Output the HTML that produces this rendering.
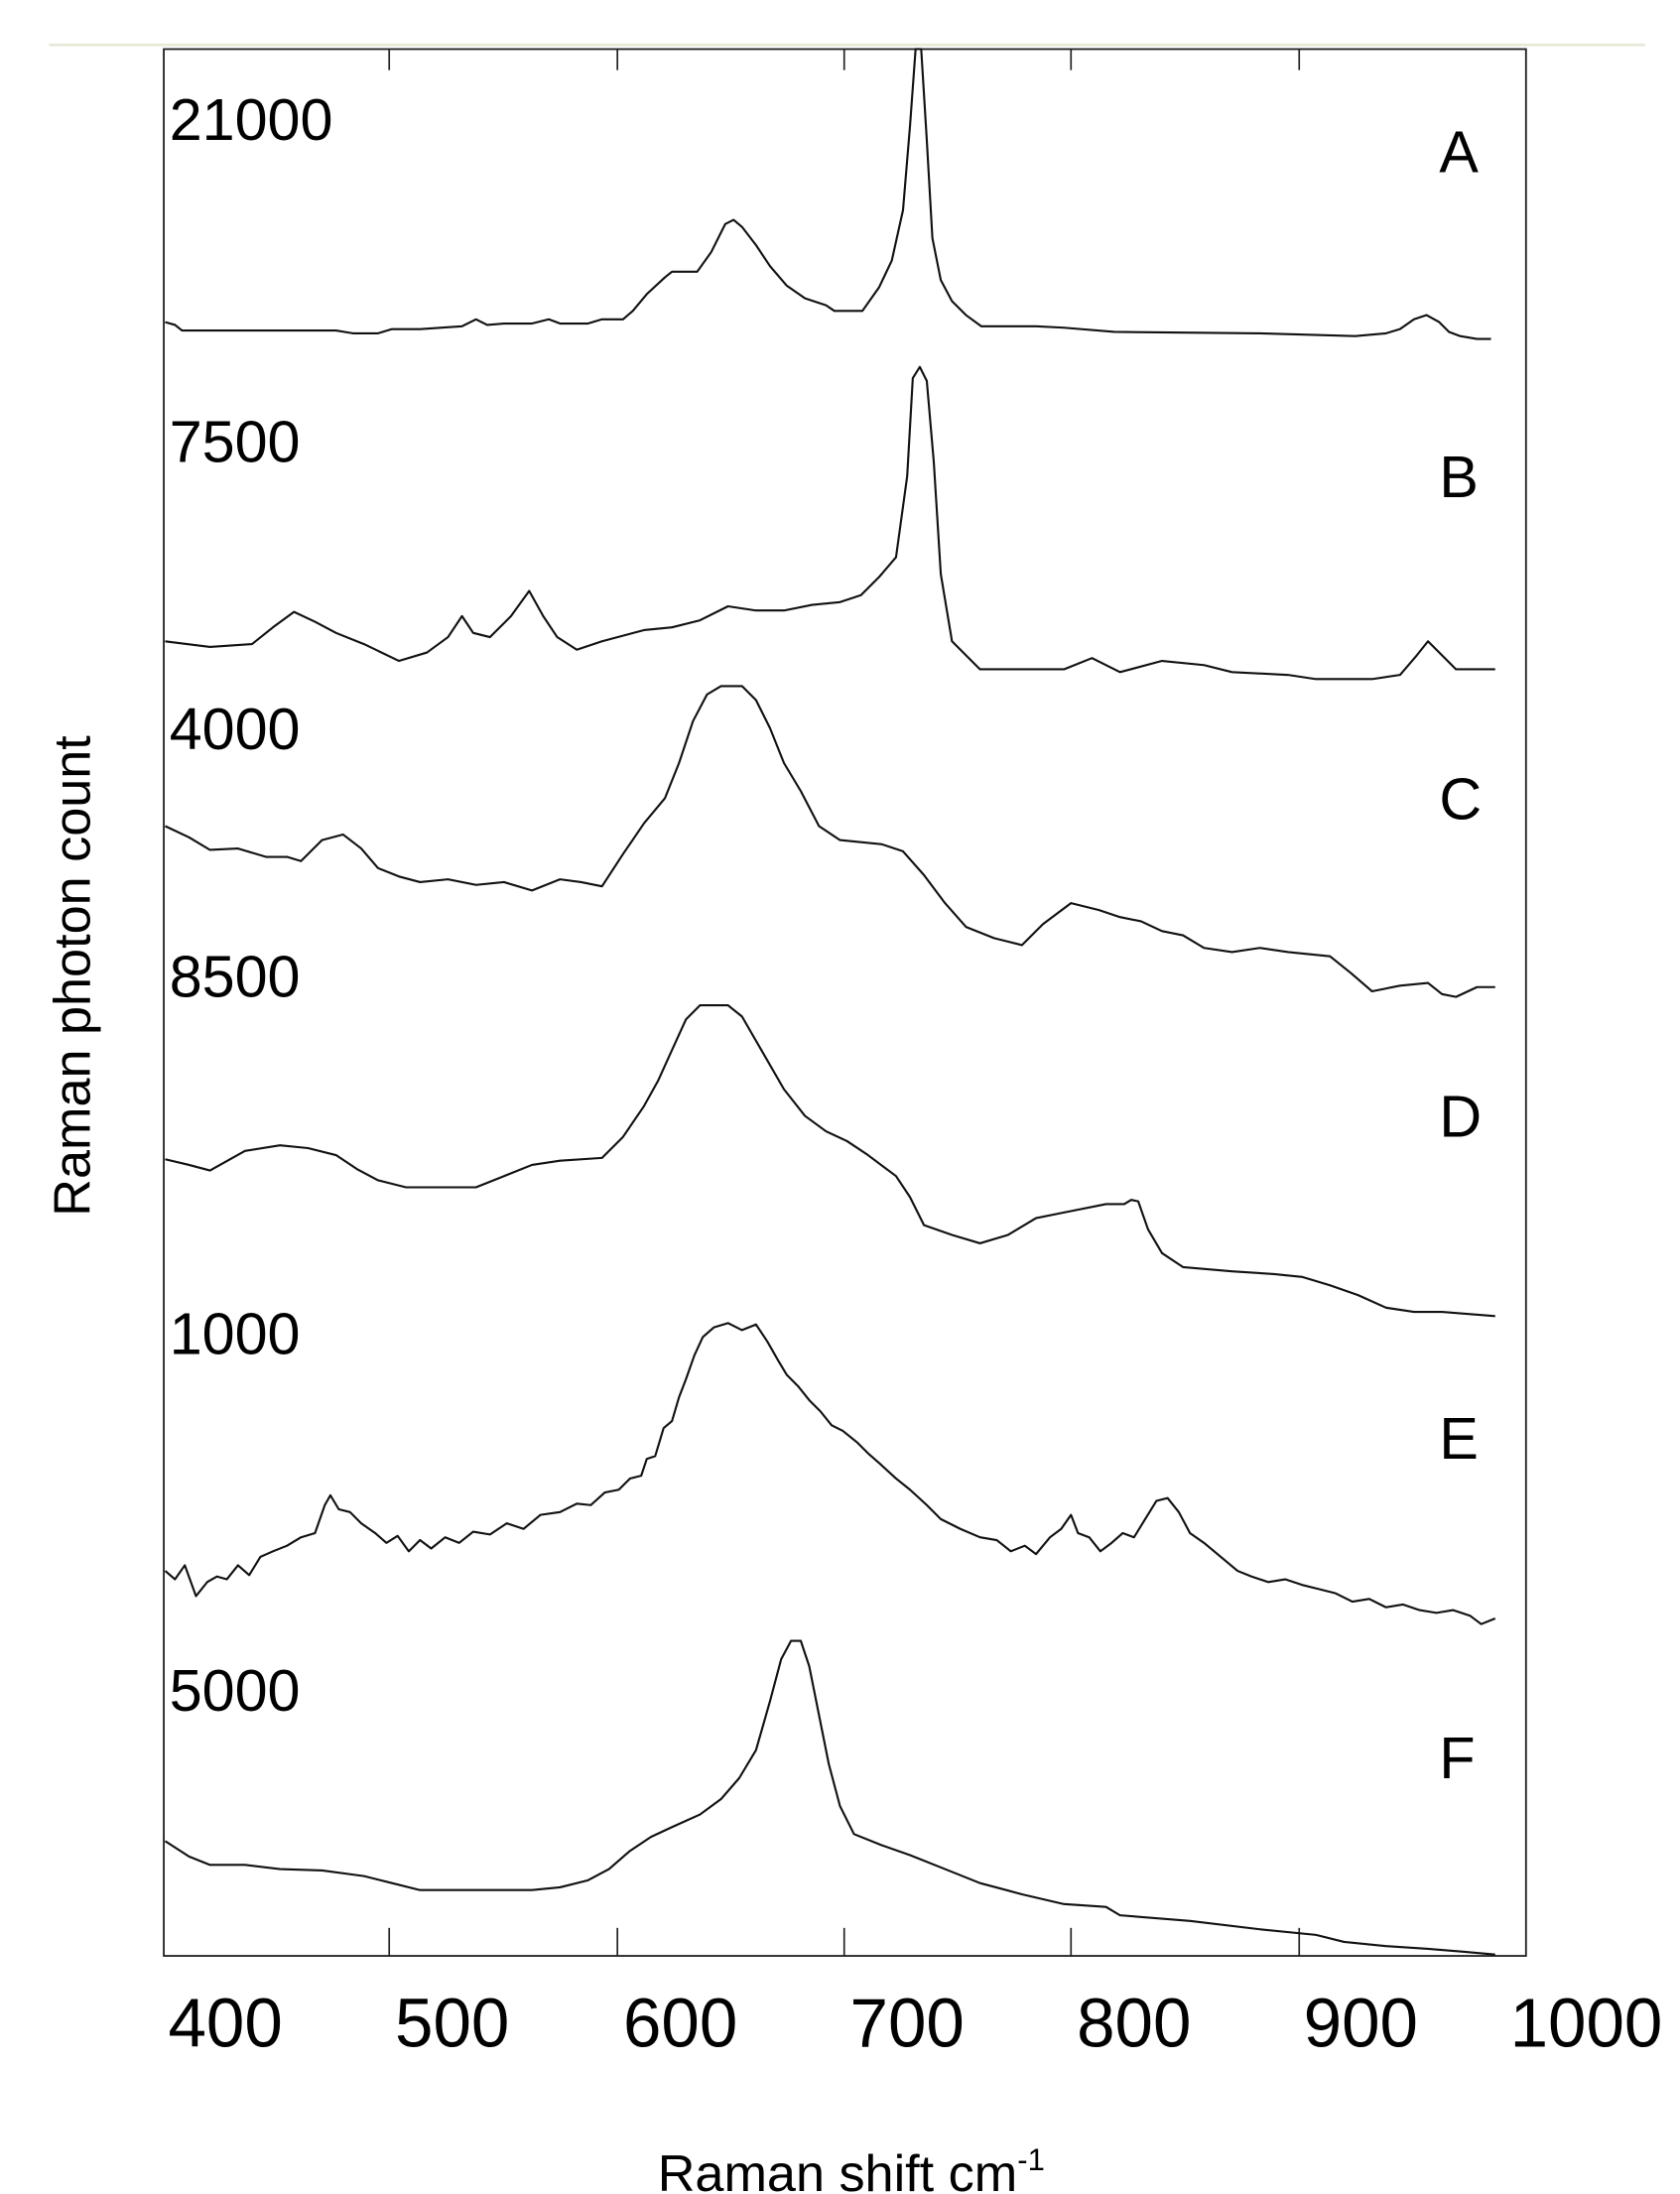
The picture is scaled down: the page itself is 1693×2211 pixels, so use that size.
<!DOCTYPE html>
<html><head><meta charset="utf-8"><style>html,body{margin:0;padding:0;background:#fff}svg{display:block}</style></head>
<body>
<svg width="1693" height="2211" viewBox="0 0 1200 1567" xmlns="http://www.w3.org/2000/svg" font-family="Liberation Sans, sans-serif">
<line x1="35" y1="32" x2="1175" y2="32" stroke="#e4ead8" stroke-width="2"/>
<rect x="117" y="35" width="973" height="1362" fill="none" stroke="#222" stroke-width="1.3"/>
<g stroke="#222" stroke-width="1.2">
<line x1="278" y1="1397" x2="278" y2="1377"/><line x1="441" y1="1397" x2="441" y2="1377"/><line x1="603" y1="1397" x2="603" y2="1377"/><line x1="765" y1="1397" x2="765" y2="1377"/><line x1="928" y1="1397" x2="928" y2="1377"/>
<line x1="278" y1="35" x2="278" y2="50"/><line x1="441" y1="35" x2="441" y2="50"/><line x1="603" y1="35" x2="603" y2="50"/><line x1="765" y1="35" x2="765" y2="50"/><line x1="928" y1="35" x2="928" y2="50"/>
</g>
<g font-size="49" text-anchor="middle" fill="#000">
<text x="161" y="1462">400</text><text x="323" y="1462">500</text><text x="486" y="1462">600</text><text x="648" y="1462">700</text><text x="810" y="1462">800</text><text x="972" y="1462">900</text><text x="1133" y="1462">1000</text>
</g>
<text x="608" y="1565" font-size="37" text-anchor="middle">Raman shift cm<tspan font-size="22" dy="-15">-1</tspan></text>
<text transform="translate(64,697) rotate(-90)" font-size="37" text-anchor="middle">Raman photon count</text>
<g font-size="42" fill="#000">
<text x="121" y="100">21000</text><text x="121" y="330">7500</text><text x="121" y="535">4000</text><text x="121" y="712">8500</text><text x="121" y="967">1000</text><text x="121" y="1222">5000</text>
<text x="1028" y="123">A</text><text x="1028" y="355">B</text><text x="1028" y="585">C</text><text x="1028" y="812">D</text><text x="1028" y="1042">E</text><text x="1028" y="1270">F</text>
</g>
<g fill="none" stroke="#111" stroke-width="1.5" stroke-linejoin="round">
<polyline points="118,230 125,232 130,236 200,236 240,236 252,238 270,238 280,235 300,235 330,233 340,228 348,232 360,231 380,231 392,228 400,231 420,231 430,228 445,228 452,222 462,210 475,198 480,194 498,194 508,180 518,160 524,157 530,162 540,175 550,190 562,204 575,213 590,218 596,222 616,222 628,205 637,186 645,150 650,90 654,35 658,35 662,100 666,170 672,200 680,215 690,225 701,233 740,233 760,234 796,237 900,238 968,240 990,238 1000,235 1010,228 1019,225 1028,230 1035,237 1043,240 1055,242 1065,242"/>
<polyline points="118,458 150,462 180,460 195,448 210,437 225,444 240,452 260,460 285,472 305,466 320,455 330,440 338,452 350,455 365,440 378,422 388,440 398,455 412,464 430,458 460,450 480,448 500,443 520,433 540,436 560,436 580,432 600,430 615,425 628,412 640,398 648,340 652,270 657,262 662,272 667,330 672,410 680,458 700,478 760,478 780,470 800,480 830,472 860,475 880,480 920,482 940,485 980,485 1000,482 1012,468 1020,458 1030,468 1040,478 1068,478"/>
<polyline points="118,590 135,598 150,607 170,606 190,612 205,612 215,615 230,600 245,596 258,606 270,620 285,626 300,630 320,628 340,632 360,630 380,636 400,628 415,630 430,633 445,610 460,588 475,570 485,545 495,515 505,496 515,490 530,490 540,500 550,520 560,545 572,565 585,590 600,600 630,603 645,608 660,625 675,645 690,662 710,670 730,675 745,660 765,645 785,650 800,655 815,658 830,665 845,668 860,677 880,680 900,677 920,680 950,683 965,695 980,708 1000,704 1020,702 1030,710 1040,712 1055,705 1068,705"/>
<polyline points="118,828 135,832 150,836 175,822 200,818 220,820 240,825 255,835 270,843 290,848 320,848 340,848 360,840 380,832 400,829 430,827 445,812 460,790 470,772 480,750 490,728 500,718 520,718 530,726 545,752 560,778 575,797 590,808 605,815 620,825 640,840 650,855 660,875 680,882 700,888 720,882 740,870 760,866 790,860 803,860 808,857 813,858 820,878 830,895 845,905 880,908 910,910 930,912 950,918 970,925 990,934 1010,937 1030,937 1068,940"/>
<polyline points="118,1122 125,1128 132,1118 140,1140 148,1130 155,1126 162,1128 170,1118 178,1125 186,1112 195,1108 205,1104 215,1098 225,1095 232,1075 236,1068 242,1078 250,1080 258,1088 268,1095 276,1102 284,1097 292,1108 300,1100 308,1106 318,1098 328,1102 338,1094 350,1096 362,1088 374,1092 386,1082 400,1080 412,1074 422,1075 432,1066 442,1064 450,1056 458,1054 462,1042 468,1040 474,1020 480,1015 485,998 490,985 496,968 502,955 510,948 520,945 530,950 540,946 548,958 556,972 562,982 570,990 578,1000 586,1008 594,1018 602,1022 612,1030 620,1038 628,1045 640,1056 650,1064 662,1075 672,1085 686,1092 700,1098 712,1100 722,1108 732,1104 740,1110 750,1098 758,1092 765,1082 770,1095 778,1098 786,1108 794,1102 802,1095 810,1098 818,1085 826,1072 834,1070 842,1080 850,1095 860,1102 872,1112 884,1122 894,1126 906,1130 918,1128 930,1132 942,1135 954,1138 966,1144 978,1142 990,1148 1002,1146 1014,1150 1026,1152 1038,1150 1050,1154 1058,1160 1068,1156"/>
<polyline points="118,1315 135,1326 150,1332 175,1332 200,1335 230,1336 260,1340 280,1345 300,1350 320,1350 350,1350 380,1350 400,1348 420,1343 435,1335 450,1322 465,1312 480,1305 500,1296 515,1285 528,1270 540,1250 550,1215 558,1185 565,1172 572,1172 578,1190 585,1225 592,1260 600,1290 610,1310 630,1318 650,1325 675,1335 700,1345 730,1353 760,1360 790,1362 800,1368 850,1372 900,1378 940,1382 960,1387 990,1390 1020,1392 1045,1394 1068,1396"/>
</g>
</svg>
</body></html>
